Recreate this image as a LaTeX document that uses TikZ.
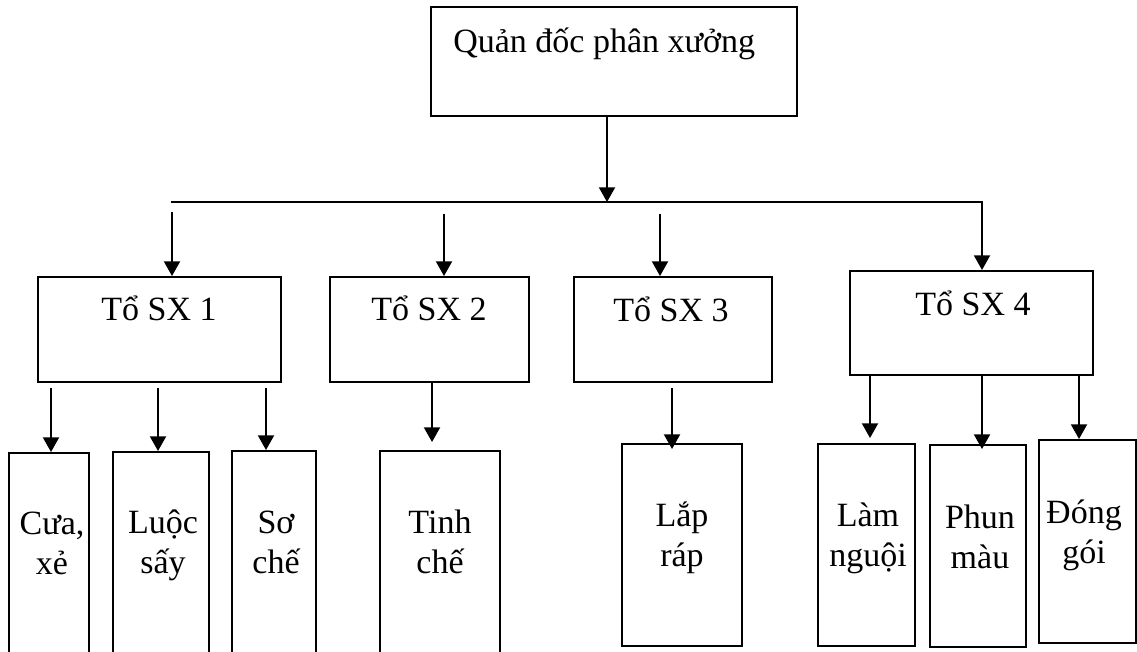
\documentclass[tikz,border=0pt]{standalone}
\usepackage{fontspec}
\setmainfont{Liberation Serif}
\usetikzlibrary{arrows.meta,fit}
\begin{document}
\begin{tikzpicture}[x=0.75pt,y=-0.75pt,
  box/.style={draw, line width=1.5pt, inner sep=0pt},
  lbl/.style={font=\fontsize{25.5}{30}\selectfont, inner sep=0pt, align=center, anchor=base},
  arr/.style={line width=1.5pt, line join=miter, -{Triangle[length=11pt,width=12pt]}}]
\useasboundingbox (0,0) rectangle (1137,652);
\clip (0,0) rectangle (1137,652);

% boxes
\node[box, fit={(431,7) (797,116)}] (top) {};
\node[box, fit={(37.5,277) (281,382)}] (sx1) {};
\node[box, fit={(330,277) (529,382)}] (sx2) {};
\node[box, fit={(574,277) (771.5,382)}] (sx3) {};
\node[box, fit={(850,271) (1093,375)}] (sx4) {};
\node[box, fit={(9,453) (88.6,720)}] (cua) {};
\node[box, fit={(113,452) (209,720)}] (luoc) {};
\node[box, fit={(232,451) (316,720)}] (so) {};
\node[box, fit={(380,451) (500,720)}] (tinh) {};
\node[box, fit={(622,444) (742,646)}] (lap) {};
\node[box, fit={(818,444) (915,646)}] (lam) {};
\node[box, fit={(930,445) (1025.6,647)}] (phun) {};
\node[box, fit={(1039,440) (1136,643)}] (dong) {};

% labels (two-line labels are placed by the baseline of their last line)
\node[lbl, anchor=base west] (topt) at (453,53) {Quản đốc phân xưởng};
\node[lbl] (sx1t) at (159,320) {Tổ SX 1};
\node[lbl] (sx2t) at (429,320) {Tổ SX 2};
\node[lbl] (sx3t) at (671,321) {Tổ SX 3};
\node[lbl] (sx4t) at (973,315) {Tổ SX 4};
\node[lbl] (cuat) at (52,574) {Cưa,\\xẻ};
\node[lbl] (luoct) at (163,573) {Luộc\\sấy};
\node[lbl] (sot) at (276,573) {Sơ\\chế};
\node[lbl] (tinht) at (440,573) {Tinh\\chế};
\node[lbl] (lapt) at (682,566) {Lắp\\ráp};
\node[lbl] (lamt) at (868,566) {Làm\\nguội};
\node[lbl] (phunt) at (980,568) {Phun\\màu};
\node[lbl] (dongt) at (1084,563) {Đóng\\gói};

% connectors
\coordinate (j0) at (607,202);
\coordinate (bl) at (171,202);
\coordinate (br) at (982,202);
\draw[arr] (j0 |- top.south) -- (j0);
\draw[arr] (bl) -- (br) -- (br |- sx4.north);
\coordinate (a1) at (172,212);
\coordinate (a2) at (444,214);
\coordinate (a3) at (660,214);
\draw[arr] (a1) -- (a1 |- sx1.north);
\draw[arr] (a2) -- (a2 |- sx2.north);
\draw[arr] (a3) -- (a3 |- sx3.north);

\coordinate (b1) at (51,388);
\coordinate (b2) at (158,388);
\coordinate (b3) at (266,388);
\draw[arr] (b1) -- (b1 |- cua.north);
\draw[arr] (b2) -- (b2 |- luoc.north);
\draw[arr] (b3) -- (b3 |- so.north);
\coordinate (b4) at (432,0);
\draw[arr, shorten >=6pt] (b4 |- sx2.south) -- (b4 |- tinh.north);
\coordinate (b5) at (672,388);
\draw[arr, shorten >=-4.5pt] (b5) -- (b5 |- lap.north);
\coordinate (b6) at (870,0);
\coordinate (b7) at (982,0);
\coordinate (b8) at (1079,0);
\draw[arr, shorten >=3.75pt] (b6 |- sx4.south) -- (b6 |- lam.north);
\draw[arr, shorten >=-3.75pt] (b7 |- sx4.south) -- (b7 |- phun.north);
\draw[arr] (b8 |- sx4.south) -- (b8 |- dong.north);
\end{tikzpicture}
\end{document}
